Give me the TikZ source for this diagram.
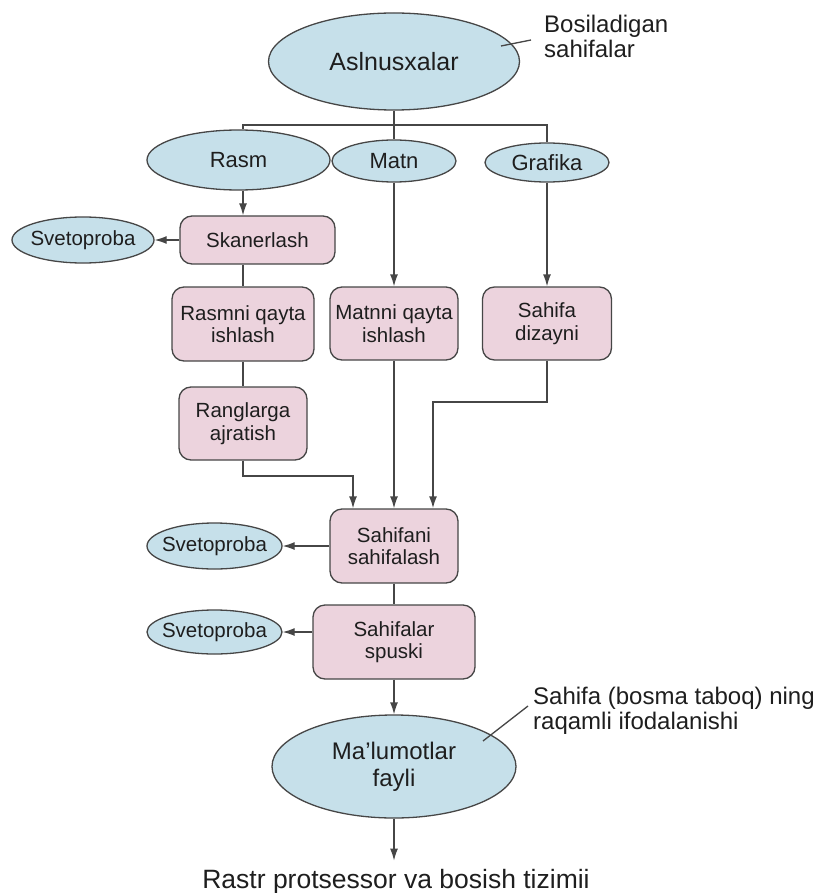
\documentclass[tikz,border=0pt]{standalone}
\usepackage{fontspec}
\setmainfont{Liberation Sans}
\usetikzlibrary{shapes.geometric,arrows.meta}

\definecolor{ovalblue}{RGB}{198,224,234}
\definecolor{boxpink}{RGB}{236,211,221}
\definecolor{rim}{RGB}{70,70,70}
\definecolor{ink}{RGB}{30,30,30}

\begin{document}
\begin{tikzpicture}[x=1pt,y=-1pt]
	\tikzstyle{every node}=[text=ink]
	\tikzstyle{oval}=[ellipse,draw=rim,fill=ovalblue,line width=1.3pt,
	inner xsep=-15pt,inner ysep=0pt,align=center,font=\fontsize{22}{26}\selectfont]
	\tikzstyle{box}=[rectangle,rounded corners=12pt,draw=rim,fill=boxpink,
	line width=1.3pt,align=center,font=\fontsize{20.5}{22.5}\selectfont]
	\tikzstyle{proof}=[oval,font=\fontsize{20.5}{22}\selectfont]
	\tikzstyle{note}=[inner sep=0pt,align=left,font=\fontsize{24}{25}\selectfont]
	\tikzstyle{wire}=[draw=rim,line width=1.3pt]
	\tikzstyle{flow}=[wire,-{Latex[length=12pt,width=8pt]}]
	\useasboundingbox (0,0) rectangle (816,893);

	\node[oval,minimum width=251pt,minimum height=97pt,font=\fontsize{25}{28}\selectfont] (asl) at (394,61.5) {Aslnusxalar};
	\node[note,anchor=west] (bosil) at (544,36) {Bosiladigan\\sahifalar};

	\node[oval,minimum width=183pt,minimum height=60pt] (rasm) at (238.5,160) {Rasm};
	\node[oval,minimum width=124pt,minimum height=42pt] (matn) at (394,161) {Matn};
	\node[oval,minimum width=124pt,minimum height=39pt] (grafika) at (547,162.5) {Grafika};

	\node[box,minimum width=155pt,minimum height=48pt] (skan) at (257.5,240) {Skanerlash};
	\node[proof,minimum width=142pt,minimum height=46pt] (sveto1) at (83,240) {Svetoproba};
	\node[box,minimum width=142pt,minimum height=74pt] (rasmq) at (243,324) {Rasmni qayta\\ishlash};
	\node[box,minimum width=128pt,minimum height=73pt] (matnq) at (394,323.5) {Matnni qayta\\ishlash};
	\node[box,minimum width=129pt,minimum height=73pt] (dizayn) at (547,323.5) {Sahifa\\dizayni};
	\node[box,minimum width=128pt,minimum height=73pt] (rang) at (243,423.5) {Ranglarga\\ajratish};

	\node[box,minimum width=128pt,minimum height=74pt] (sahifani) at (394,546) {Sahifani\\sahifalash};
	\node[proof,minimum width=135pt,minimum height=46pt] (sveto2) at (214.5,546) {Svetoproba};
	\node[box,minimum width=162pt,minimum height=74pt] (spuski) at (394,642) {Sahifalar\\spuski};
	\node[proof,minimum width=135pt,minimum height=44pt] (sveto3) at (214.5,632) {Svetoproba};

	\node[oval,minimum width=244pt,minimum height=103pt,font=\fontsize{24}{27}\selectfont] (malumot) at (394,766.5) {Ma’lumotlar\\fayli};
	\node[note,anchor=west] (raqam) at (533,711) {Sahifa (bosma taboq) ning\\raqamli ifodalanishi};
	\node[inner sep=0pt,anchor=base,font=\fontsize{26.5}{30}\selectfont] (rastr) at (396,888) {Rastr protsessor va bosish tizimii};

	\coordinate (bar) at (243,125);
	\coordinate (aslpin) at (501,46);
	\coordinate (aslend) at (531,40);
	\coordinate (malpin) at (483,741);
	\coordinate (malend) at (528,706);
	\coordinate (rangk) at (353,476);
	\coordinate (dizk) at (433,402);

	\draw[wire] (asl) -- (matn);
	\draw[wire] (bar |- rasm.north) -- (bar) -- (grafika |- bar) -- (grafika);
	\draw[wire] (aslpin) -- (aslend);
	\draw[flow] (bar |- rasm.south) -- (bar |- skan.north);
	\draw[flow] (matn) -- (matnq);
	\draw[flow] (grafika) -- (dizayn);
	\draw[flow] (skan) -- (sveto1);
	\draw[wire] (bar |- skan.south) -- (rasmq);
	\draw[wire] (rasmq) -- (rang);
	\draw[flow] (rang.south) |- (rangk) -- (rangk |- sahifani.north);
	\draw[flow] (matnq) -- (sahifani);
	\draw[flow,line width=1.8pt] (dizayn.south) |- (dizk) -- (dizk |- sahifani.north);
	\draw[flow] (sahifani) -- (sveto2);
	\draw[wire] (sahifani) -- (spuski);
	\draw[flow] (spuski.west |- sveto3) -- (sveto3);
	\draw[flow] (spuski) -- (malumot);
	\draw[wire] (malpin) -- (malend);
	\draw[flow,shorten >=8pt] (malumot) -- (malumot |- rastr.north);
\end{tikzpicture}
\end{document}
